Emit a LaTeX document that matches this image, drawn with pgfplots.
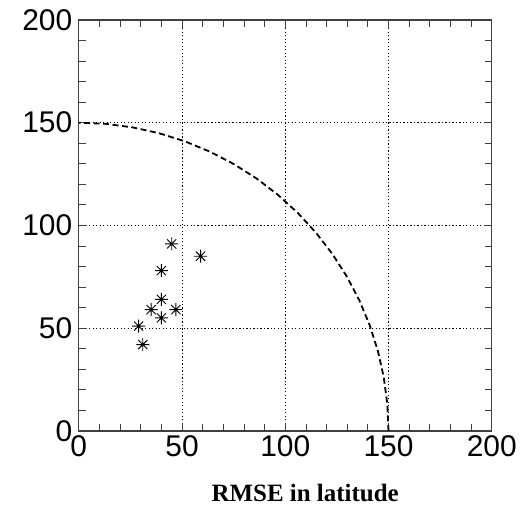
\documentclass[border=0pt]{standalone}
\usepackage{fontspec}
\setmainfont{Liberation Sans}
\newfontfamily\serifb{Liberation Serif}
\usepackage{pgfplots}
\pgfplotsset{compat=1.18}
\pgfdeclareplotmark{star8}{%
  \pgfpathmoveto{\pgfqpoint{-\pgfplotmarksize}{0pt}}\pgfpathlineto{\pgfqpoint{\pgfplotmarksize}{0pt}}%
  \pgfpathmoveto{\pgfqpoint{0pt}{-\pgfplotmarksize}}\pgfpathlineto{\pgfqpoint{0pt}{\pgfplotmarksize}}%
  \pgfpathmoveto{\pgfqpoint{-0.7071\pgfplotmarksize}{-0.7071\pgfplotmarksize}}\pgfpathlineto{\pgfqpoint{0.7071\pgfplotmarksize}{0.7071\pgfplotmarksize}}%
  \pgfpathmoveto{\pgfqpoint{-0.7071\pgfplotmarksize}{0.7071\pgfplotmarksize}}\pgfpathlineto{\pgfqpoint{0.7071\pgfplotmarksize}{-0.7071\pgfplotmarksize}}%
  \pgfusepathqstroke}
\begin{document}
\begin{tikzpicture}
\begin{axis}[
  at={(0pt,0pt)}, anchor=south west,
  width=414pt, height=412pt, scale only axis,
  xmin=0, xmax=200, ymin=0, ymax=200,
  xtick={0,50,100,150,200}, ytick={0,50,100,150,200},
  minor tick num=4,
  tick align=inside,
  major tick length=8pt, minor tick length=7pt,
  every tick/.style={black!75, line width=0.8pt},
  axis line style={black!75, line width=1.4pt},
  grid=major,
  major grid style={black, line width=1pt, dash pattern=on 1.2pt off 2.3pt},
  /pgf/number format/assume math mode=true,
  tick label style={font=\fontsize{30}{30}\selectfont},
  xticklabel style={yshift=-1pt},
  yticklabel style={xshift=-3pt},
  xlabel={\serifb\bfseries\fontsize{25}{25}\selectfont RMSE in latitude},
  every axis x label/.style={at={(axis description cs:0.5,0)}, anchor=center, xshift=20pt, yshift=-62pt},
  clip=false,
]
\addplot[black, line width=1.8pt, dash pattern=on 6pt off 3.5pt] coordinates {
(150,0) (149.43,13.07) (147.72,26.05) (144.89,38.82) (140.95,51.30) (135.95,63.39)
(129.90,75.00) (122.87,86.04) (114.91,96.42) (106.07,106.07) (96.42,114.91)
(86.04,122.87) (75.00,129.90) (63.39,135.95) (51.30,140.95) (38.82,144.89)
(26.05,147.72) (13.07,149.43) (0,150)};
\addplot[only marks, mark=star8, mark size=6.5pt, black, mark options={line width=0.9pt}] coordinates {
(45,91) (59,85) (40,78) (40,64) (35,59) (47,59) (40,55) (29,51) (31,42)};
\end{axis}
\path[use as bounding box] (-79pt,-76pt) rectangle (441pt,432pt);
\end{tikzpicture}
\end{document}
